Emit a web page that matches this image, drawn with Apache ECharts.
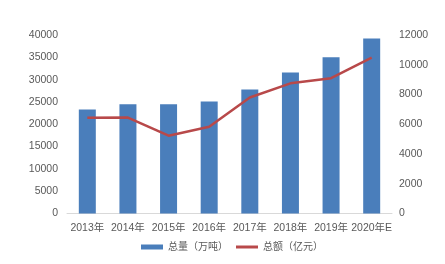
<!DOCTYPE html>
<html>
<head>
<meta charset="utf-8">
<style>
  html, body { margin: 0; padding: 0; background: #fff; }
  #chart { width: 445px; height: 264px; }
</style>
<script src="https://cdn.jsdelivr.net/npm/echarts@6/dist/echarts.min.js"></script>
</head>
<body>
<div id="chart"></div>
<script>
// 年份
const years = ['2013年', '2014年', '2015年', '2016年', '2017年', '2018年', '2019年', '2020年E']
// 总量（万吨）
const volume = [23300, 24500, 24500, 25100, 27800, 31600, 35000, 39200]
// 总额（亿元）
const amount = [6440, 6450, 5230, 5830, 7800, 8750, 9100, 10480]

const font = '"Liberation Sans", "Noto Sans CJK SC", sans-serif'
const gray = '#595959'

const chart = echarts.init(document.getElementById('chart'))
chart.setOption({
  animation: false,
  textStyle: { fontFamily: font },
  grid: { left: 67, right: 53, top: 35, bottom: 50.5 },
  legend: {
    bottom: 7,
    left: 136,
    itemGap: 8,
    itemWidth: 22,
    itemHeight: 5,
    textStyle: { color: gray, fontSize: 10, fontFamily: font },
    data: [
      { name: '总量（万吨）', icon: 'rect' },
      { name: '总额（亿元）', icon: 'path://M0,0H22V3H0Z' },
    ],
  },
  xAxis: {
    type: 'category',
    data: years,
    axisLine: { lineStyle: { color: '#d9d9d9' } },
    axisTick: { show: false },
    axisLabel: { color: gray, fontSize: 10.5, margin: 9, interval: 0 },
  },
  yAxis: [
    {
      type: 'value', min: 0, max: 40000, interval: 5000,
      splitLine: { show: false },
      axisLine: { show: false },
      axisTick: { show: false },
      axisLabel: { color: gray, fontSize: 10.5, margin: 9, formatter: v => String(v) },
    },
    {
      type: 'value', min: 0, max: 12000, interval: 2000,
      splitLine: { show: false },
      axisLine: { show: false },
      axisTick: { show: false },
      axisLabel: { color: gray, fontSize: 10.5, margin: 7, formatter: v => String(v) },
    },
  ],
  series: [
    {
      name: '总量（万吨）',
      type: 'bar',
      barWidth: 17,
      itemStyle: { color: '#4a7ebb' },
      data: volume,
    },
    {
      name: '总额（亿元）',
      type: 'line',
      yAxisIndex: 1,
      symbol: 'none',
      lineStyle: { color: '#b8494a', width: 2.5 },
      itemStyle: { color: '#b8494a' },
      data: amount,
    },
  ],
})
</script>
</body>
</html>
